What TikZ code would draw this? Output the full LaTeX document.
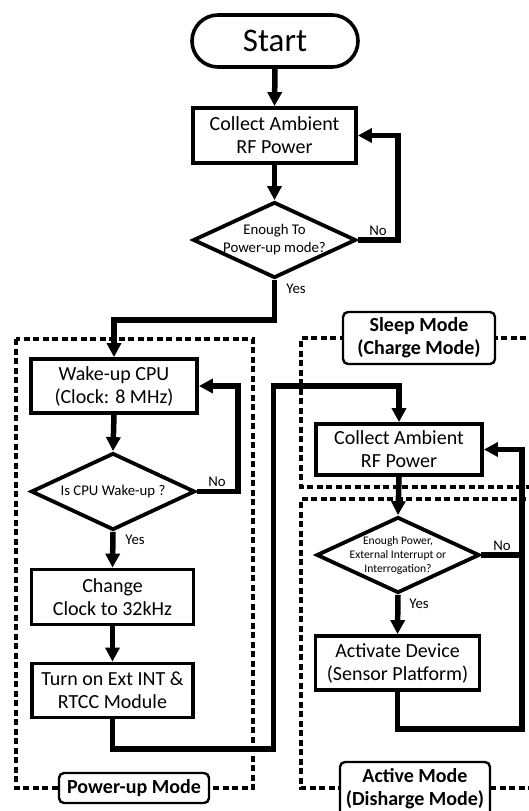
\documentclass[tikz,border=0pt]{standalone}
\usepackage{fontspec}
\setmainfont{Carlito}
\usetikzlibrary{arrows.meta,shapes.geometric}
\newcommand\startfont{\fontsize{33}{36}\selectfont}
\newcommand\boxfont{\fontsize{20}{23}\selectfont}
\newcommand\diafont{\fontsize{14.8}{18}\selectfont}
\newcommand\tinyfont{\fontsize{11.6}{14}\selectfont}
\newcommand\lblfont{\fontsize{14.8}{17}\selectfont}
\begin{document}
\begin{tikzpicture}[x=1pt,y=-1pt,
  box/.style={draw, line width=3.8pt, fill=white, inner sep=0pt, align=center, font=\boxfont},
  term/.style={draw, line width=3.6pt, rounded corners=26pt, inner sep=0pt, minimum width=166pt, minimum height=52pt, font=\startfont},
  dia/.style={draw, diamond, line width=3.8pt, inner sep=0pt, minimum width=163pt, minimum height=76pt},
  diatext/.style={align=center, inner sep=0pt, font=\diafont},
  arr/.style={line width=5.5pt, -{Triangle[length=14pt,width=14pt]}},
  lnk/.style={line width=5.5pt},
  lbl/.style={inner sep=0pt, font=\lblfont},
  frame/.style={line width=3.5pt, dash pattern=on 6pt off 3.5pt},
  modebox/.style={draw, line width=2.4pt, fill=white, rounded corners=5pt, inner sep=0pt, align=center, font=\boxfont\bfseries}
]
\useasboundingbox (0,0) rectangle (529,811);

% mode frames
\draw[frame] (16,339) rectangle (253,788);
\draw[frame] (545,338) -- (301,338) -- (301,487) -- (545,487);
\draw[frame] (545,499) -- (301,499) -- (301,788) -- (545,788);

% nodes
\node[term] (start) at (275,41) {Start};
\node[box, minimum width=163pt, minimum height=55pt] (c1) at (274.5,135.5) {Collect Ambient\\RF Power};
\node[dia] (d1) at (274.5,240) {};
\node[diatext] (d1t) at (274.5,240) {Enough To\\Power-up mode?};

\node[box, minimum width=166pt, minimum height=54pt] (wake) at (114,386) {Wake-up CPU\\(Clock: 8 MHz)};
\node[dia, minimum width=164pt, minimum height=77pt] (d2) at (113,491.5) {};
\node[diatext] (d2t) at (113,491.5) {Is CPU Wake-up ?};
\node[box, minimum width=162pt, minimum height=55pt] (chg) at (112.5,597) {Change\\Clock to 32kHz};
\node[box, minimum width=161pt, minimum height=54pt] (turn) at (112.5,690.5) {Turn on Ext INT \&\\RTCC Module};

\node[box, minimum width=166pt, minimum height=51pt] (c2) at (399,449.5) {Collect Ambient\\RF Power};
\node[dia, minimum width=163pt, minimum height=76pt] (d3) at (398,555) {};
\node[diatext, font=\tinyfont] (d3t) at (398,555) {Enough Power,\\External Interrupt or\\Interrogation?};
\node[box, minimum width=164pt, minimum height=54pt] (act) at (397.5,663) {Activate Device\\(Sensor Platform)};

% connectors
\draw[arr] (start.south) -- (c1.north);
\draw[arr] (c1.south) -- (d1.north);
\draw[arr] (d1.east) -- (398,240) |- (c1.east);
\draw[arr] (d1.south) -- (274.5,320) -| (wake.north);
\draw[arr] (wake.south) -- (d2.north);
\draw[arr] (d2.east) -- (238,491.5) |- (wake.east);
\draw[arr] (d2.south) -- (chg.north);
\draw[arr] (chg.south) -- (turn.north);
\draw[arr] (turn.south) -- (112.5,749) -- (273.5,749) -- (273.5,386) -| (c2.north);
\draw[arr] (c2.south) -- (d3.north);
\draw[arr] (d3.south) -- (act.north);
\draw[lnk] (d3.east) -- (522,555);
\draw[arr] (act.south) -- (397.5,729) -- (522,729) |- (c2.east);

% branch labels
\node[lbl] (no1) at (378,231) {No};
\node[lbl] (yes1) at (296,289) {Yes};
\node[lbl] (no2) at (217,482) {No};
\node[lbl] (yes2) at (135,540) {Yes};
\node[lbl] (no3) at (502,546) {No};
\node[lbl] (yes3) at (419,604) {Yes};

% mode labels
\node[modebox, minimum width=150pt, minimum height=30pt] (pm) at (134,788) {Power-up Mode};
\node[modebox, minimum width=152pt, minimum height=52pt] (sm) at (419,338) {Sleep Mode\\(Charge Mode)};
\node[modebox, minimum width=150pt, minimum height=54pt] (am) at (415,789) {Active Mode\\(Disharge Mode)};
\end{tikzpicture}
\end{document}
